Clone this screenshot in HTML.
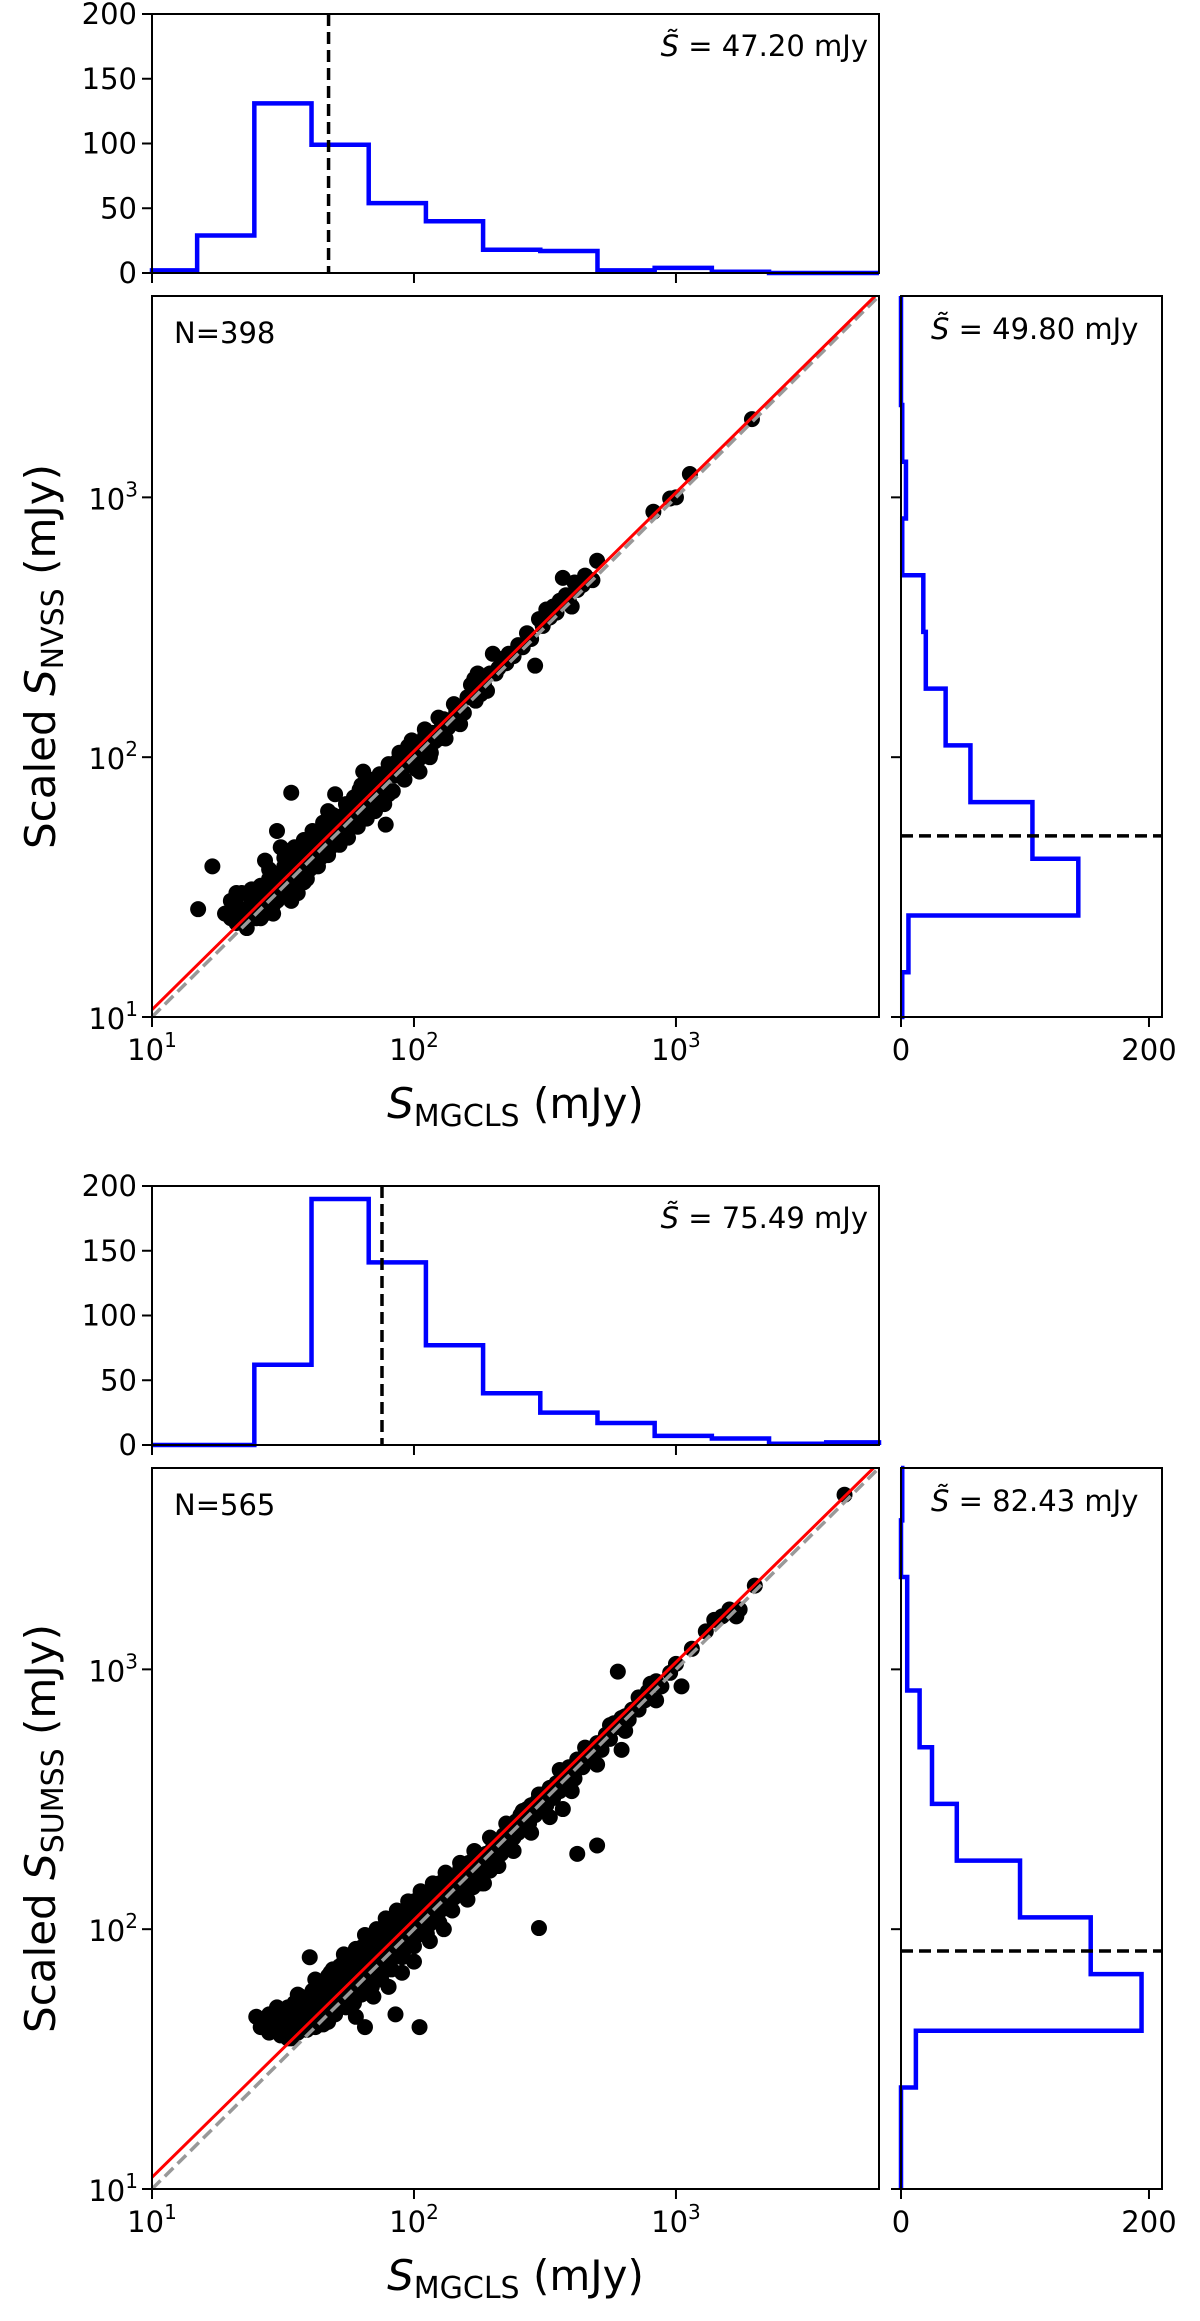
<!DOCTYPE html>
<html><head><meta charset="utf-8"><title>MGCLS flux comparison</title>
<style>
html,body{margin:0;padding:0;background:#fff;}
svg{display:block;font-family:"DejaVu Sans","Liberation Sans",sans-serif;}
</style></head>
<body>
<svg id="fig" width="1200" height="2321" viewBox="0 0 1200 2321" xmlns="http://www.w3.org/2000/svg"></svg>
<script>
// ---------- data ----------
var LMIN = 1, LMAX = 3.775;
var binStart = 0.954, binWidth = 0.2183, binCount = 13;
var topHist1 = [2,29,131,99,54,40,18,17,2,4,1,0,0];
var rightHist1 = [1,6,143,106,56,36,20,18,1,4,1,0,0];
var topHist2 = [0,0,62,190,141,77,40,25,17,7,5,1,2];
var rightHist2 = [0,0,12,194,153,96,45,25,15,5,5,0,1];
var medianX1 = 47.20, medianY1 = 49.80, medianX2 = 75.49, medianY2 = 82.43;
var medianLabels1 = ["47.20","49.80"], medianLabels2 = ["75.49","82.43"];
var nLabels = ["N=398","N=565"];
var surveyLabels = ["NVSS","SUMSS"];
var fitLine1 = [[1,1.028],[3.76,3.775]];
var fitLine2 = [[1,1.045],[3.754,3.775]];
var xTickVals = [10,100,1000];
var xTickExp = ["1","2","3"];
var histTicks = [0,50,100,150,200];
var rightTicks = [0,200];
var pts1 = [[15,26],[17,38],[34,73],[19,25],[20,28],[20,24],[21,27],[21,23],[22,30],[22,25],[23,26],[23,22],[24,28],[24,25],[25,24],[25,30],[26,27],[26,32],[27,25],[27,40],[28,29],[28,34],[29,27],[29,31],[30,33],[30,52],[30,28],[31,36],[31,45],[32,30],[32,38],[33,35],[33,29],[34,38],[34,32],[35,40],[35,34],[36,37],[36,30],[37,42],[37,35],[38,44],[38,33],[39,40],[40,46],[40,37],[41,43],[42,48],[42,39],[43,45],[44,50],[44,41],[45,47],[46,53],[46,43],[47,62],[48,50],[48,45],[49,55],[50,72],[50,52],[51,47],[52,56],[53,50],[54,60],[55,52],[56,58],[57,54],[58,64],[60,62],[60,56],[62,75],[62,66],[64,88],[64,60],[66,72],[68,66],[70,82],[70,74],[72,68],[74,78],[75,72],[78,55],[78,84],[80,72],[82,88],[85,85],[86,96],[88,90],[90,100],[92,92],[95,110],[96,98],[100,110],[100,104],[104,98],[105,88],[108,115],[110,120],[112,106],[115,100],[118,124],[120,115],[125,118],[128,134],[130,140],[135,130],[140,140],[145,150],[150,155],[155,148],[160,170],[165,190],[170,200],[172,165],[175,210],[180,175],[185,190],[190,180],[200,250],[205,210],[210,220],[220,240],[225,230],[230,250],[240,245],[250,270],[260,265],[270,300],[280,285],[290,225],[300,340],[310,320],[320,370],[330,345],[340,380],[350,360],[360,400],[370,490],[380,420],[390,400],[400,380],[410,470],[420,440],[440,460],[450,500],[480,480],[500,570],[820,880],[950,990],[1000,1000],[1130,1230],[1950,2000],
[21,30],[24,31],[26,24],[28,37],[29,25],[32,41],[34,28],[35,45],[38,48],[39,34],[41,52],[43,38],[45,56],[47,42],[49,60],[52,46],[55,66],[56,49],[59,70],[61,54],[63,78],[66,58],[69,80],[71,62],[74,86],[77,66],[80,94],[83,74],[88,104],[92,82],[98,116],[102,90],[110,128],[116,104],[124,142],[132,118],[142,160],[150,134],[170,185],[195,210]];
var pts2 = [[25,46],[26,42],[27,44],[28,40],[28,47],[29,43],[30,41],[30,45],[31,39],[31,48],[32,44],[32,40],[33,42],[33,50],[34,46],[34,38],[35,43],[35,52],[36,40],[36,47],[37,45],[37,55],[38,42],[38,50],[39,48],[39,41],[40,44],[40,53],[40,78],[41,47],[41,58],[42,42],[42,51],[43,49],[43,60],[44,45],[44,55],[45,52],[45,62],[46,48],[46,58],[47,44],[47,66],[48,54],[48,61],[49,50],[49,70],[50,56],[50,47],[51,64],[52,58],[52,72],[53,54],[54,62],[54,75],[55,50],[55,68],[56,60],[57,56],[57,73],[58,66],[58,80],[59,52],[60,70],[60,62],[61,58],[62,76],[62,66],[63,85],[64,60],[64,72],[65,95],[66,68],[66,80],[67,62],[68,74],[68,88],[69,66],[70,82],[70,72],[71,92],[72,70],[72,78],[73,86],[74,66],[75,80],[75,98],[76,74],[77,90],[78,84],[78,104],[79,76],[80,88],[80,96],[81,72],[82,100],[83,84],[84,92],[85,110],[86,80],[87,96],[88,86],[89,104],[90,92],[90,112],[91,82],[92,100],[93,118],[94,90],[95,106],[96,98],[97,122],[98,88],[99,110],[100,102],[100,128],[102,94],[104,114],[105,124],[106,100],[108,120],[110,108],[110,134],[112,118],[114,104],[115,130],[116,124],[118,112],[120,136],[122,126],[124,116],[125,150],[127,132],[130,120],[130,145],[132,138],[135,126],[137,160],[140,142],[142,132],[145,155],[148,140],[150,170],[152,148],[155,138],[158,165],[160,150],[162,180],[165,158],[168,145],[170,172],[172,190],[175,162],[178,155],[180,185],[182,170],[185,150],[188,195],[190,178],[195,168],[200,205],[205,185],[210,220],[215,195],[220,230],[225,205],[230,215],[235,250],[240,225],[245,260],[250,235],[255,275],[260,248],[270,290],[275,255],[280,300],[290,275],[295,310],[300,285],[310,330],[320,300],[330,350],[340,320],[350,365],[360,340],[370,380],[380,355],[390,420],[400,400],[410,380],[420,450],[440,420],[460,480],[480,455],[500,520],[520,490],[540,560],[560,540],[580,620],[600,600],[620,650],[640,660],[660,640],[680,700],[720,700],[760,760],[780,820],[800,880],[840,900],[880,860],[950,970],[1000,1050],[1150,1200],[1300,1400],[1400,1550],[1500,1600],[1600,1700],[1700,1600],[1750,1700],[2000,2100],[300,101],[105,42],[85,47],[65,42],[420,195],[500,210],[370,290],[620,490],[600,980],[1050,860],[4400,4700],
[30,50],[33,38],[36,56],[39,44],[42,64],[45,43],[48,68],[51,50],[54,80],[57,52],[60,84],[63,56],[66,92],[69,60],[72,100],[75,64],[78,110],[82,70],[86,118],[90,78],[95,128],[100,86],[106,140],[112,96],[118,150],[125,106],[132,165],[140,118],[150,180],[160,130],[170,200],[182,150],[195,225],[210,175],[225,255],[240,200],[260,285],[280,235],[300,330],[330,270],[360,410],[400,340],[450,500],[500,430],[560,610],[640,580],[720,780],[840,760],[60,46],[70,55],[80,60],[90,68],[100,75],[115,90],[130,100]];

// ---------- layout ----------
var NS = "http://www.w3.org/2000/svg";
var svg = document.getElementById('fig');
var MX0 = 152, MX1 = 879, MY0 = 296, MY1 = 1017;
var TY0 = 14, TY1 = 273, RX0 = 901, RX1 = 1162;
function el(tag, attrs, parent) {
  var e = document.createElementNS(NS, tag);
  for (var k in attrs) e.setAttribute(k, attrs[k]);
  (parent || svg).appendChild(e);
  return e;
}
function clampL(l) { return Math.max(LMIN, Math.min(LMAX, l)); }
function lx(l) { return MX0 + (clampL(l) - LMIN) / (LMAX - LMIN) * (MX1 - MX0); }
function ly(l, off) { return off + MY1 - (clampL(l) - LMIN) / (LMAX - LMIN) * (MY1 - MY0); }
function px(l) { return MX0 + (l - LMIN) / (LMAX - LMIN) * (MX1 - MX0); }
function py(l, off) { return off + MY1 - (l - LMIN) / (LMAX - LMIN) * (MY1 - MY0); }
function sx(v) { return px(Math.log10(v)); }
function sy(v, off) { return py(Math.log10(v), off); }
function hy(c, off) { return off + TY1 - c / 200 * (TY1 - TY0); }
function rx(c) { return RX0 + c / 210.5 * (RX1 - RX0); }
function edge(i) { return binStart + i * binWidth; }

function panel(off, k, topH, rightH, medX, medY, medLabels, nLabel, survey, fit, pts) {
  var g = el('g', {});
  
  

  // ---- top histogram ----
  var gt = el('g', {}, g);
  
  
  var d = 'M' + lx(edge(0)) + ' ' + hy(0, off);
  for (var i = 0; i < binCount; i++) {
    d += ' L' + lx(edge(i)) + ' ' + hy(topH[i], off) + ' L' + lx(edge(i + 1)) + ' ' + hy(topH[i], off);
  }
  d += ' L' + lx(edge(binCount)) + ' ' + hy(0, off);
  var hp = el('path', {d: d, fill: 'none', stroke: '#0000ff', 'stroke-width': 4.5}, gt);
  
  
  var mx = el('line', {x1: sx(medX), x2: sx(medX), y1: off + TY0, y2: off + TY1, stroke: '#000', 'stroke-width': 3.5, 'stroke-dasharray': '12,6'}, gt);
  
  
  var fr = el('rect', {x: MX0, y: off + TY0, width: MX1 - MX0, height: TY1 - TY0, fill: 'none', stroke: '#000', 'stroke-width': 2}, gt);
  
  
  histTicks.forEach(function (t) {
    el('line', {x1: MX0 - 10, x2: MX0, y1: hy(t, off), y2: hy(t, off), stroke: '#000', 'stroke-width': 2}, gt);
    var tt = el('text', {x: MX0 - 15, y: hy(t, off) + 10, 'text-anchor': 'end', 'font-size': 29}, gt);
    tt.textContent = t;
    
    
  });
  xTickVals.forEach(function (v) {
    el('line', {x1: sx(v), x2: sx(v), y1: off + TY1, y2: off + TY1 + 10, stroke: '#000', 'stroke-width': 2}, gt);
  });
  var at = el('text', {x: 868, y: off + 56, 'text-anchor': 'end', 'font-size': 29}, gt);
  at.innerHTML = '<tspan font-style="italic">S̃</tspan> = ' + medLabels[0] + ' mJy';
  
  

  // ---- scatter ----
  var gs = el('g', {}, g);
  
  
  var cp = el('clipPath', {id: 'clip' + k}, gs);
  el('rect', {x: MX0, y: off + MY0, width: MX1 - MX0, height: MY1 - MY0}, cp);
  var gc = el('g', {'clip-path': 'url(#clip' + k + ')'}, gs);
  for (var j = 0; j < pts.length; j++) {
    var c = el('circle', {cx: sx(pts[j][0]), cy: sy(pts[j][1], off), r: 8, fill: '#000'}, gc);
    
    
  }
  var one = el('line', {x1: px(1), y1: py(1, off), x2: px(LMAX), y2: py(LMAX, off), stroke: '#999', 'stroke-width': 3.5, 'stroke-dasharray': '12,6'}, gc);
  
  
  var rl = el('line', {x1: px(fit[0][0]), y1: py(fit[0][1], off), x2: px(fit[1][0]), y2: py(fit[1][1], off), stroke: '#ff0000', 'stroke-width': 3}, gc);
  
  
  var mf = el('rect', {x: MX0, y: off + MY0, width: MX1 - MX0, height: MY1 - MY0, fill: 'none', stroke: '#000', 'stroke-width': 2}, gs);
  
  
  xTickVals.forEach(function (v, i) {
    el('line', {x1: sx(v), x2: sx(v), y1: off + MY1, y2: off + MY1 + 10, stroke: '#000', 'stroke-width': 2}, gs);
    var tx = el('text', {x: sx(v), y: off + MY1 + 43, 'text-anchor': 'middle', 'font-size': 29}, gs);
    tx.innerHTML = '10<tspan font-size="20" dy="-13">' + xTickExp[i] + '</tspan>';
    
    
    el('line', {x1: MX0 - 10, x2: MX0, y1: sy(v, off), y2: sy(v, off), stroke: '#000', 'stroke-width': 2}, gs);
    var ty = el('text', {x: MX0 - 14, y: sy(v, off) + 12, 'text-anchor': 'end', 'font-size': 29}, gs);
    ty.innerHTML = '10<tspan font-size="20" dy="-13">' + xTickExp[i] + '</tspan>';
    
    
  });
  var nt = el('text', {x: 174, y: off + 343, 'font-size': 29}, gs);
  nt.textContent = nLabel;
  
  
  var xl = el('text', {x: (MX0 + MX1) / 2, y: off + 1118, 'text-anchor': 'middle', 'font-size': 42}, gs);
  xl.innerHTML = '<tspan font-style="italic">S</tspan><tspan font-size="30" dy="8">MGCLS</tspan><tspan dy="-8"> (mJy)</tspan>';
  
  
  var yc = (MY0 + MY1) / 2 + off;
  var yl = el('text', {x: 0, y: 0, 'text-anchor': 'middle', 'font-size': 42, transform: 'translate(55,' + yc + ') rotate(-90)'}, gs);
  yl.innerHTML = 'Scaled <tspan font-style="italic">S</tspan><tspan font-size="30" dy="8">' + survey + '</tspan><tspan dy="-8"> (mJy)</tspan>';
  
  

  // ---- right histogram ----
  var gr = el('g', {}, g);
  
  
  var d2 = 'M' + rx(0) + ' ' + ly(edge(0), off);
  for (var i2 = 0; i2 < binCount; i2++) {
    d2 += ' L' + rx(rightH[i2]) + ' ' + ly(edge(i2), off) + ' L' + rx(rightH[i2]) + ' ' + ly(edge(i2 + 1), off);
  }
  d2 += ' L' + rx(0) + ' ' + ly(edge(binCount), off);
  var rp = el('path', {d: d2, fill: 'none', stroke: '#0000ff', 'stroke-width': 4.5}, gr);
  
  
  var my = el('line', {x1: RX0, x2: RX1, y1: sy(medY, off), y2: sy(medY, off), stroke: '#000', 'stroke-width': 3.5, 'stroke-dasharray': '12,6'}, gr);
  
  
  var rf = el('rect', {x: RX0, y: off + MY0, width: RX1 - RX0, height: MY1 - MY0, fill: 'none', stroke: '#000', 'stroke-width': 2}, gr);
  
  
  rightTicks.forEach(function (t) {
    el('line', {x1: rx(t), x2: rx(t), y1: off + MY1, y2: off + MY1 + 10, stroke: '#000', 'stroke-width': 2}, gr);
    var tl = el('text', {x: rx(t), y: off + MY1 + 43, 'text-anchor': 'middle', 'font-size': 29}, gr);
    tl.textContent = t;
    
    
  });
  xTickVals.forEach(function (v) {
    el('line', {x1: RX0 - 10, x2: RX0, y1: sy(v, off), y2: sy(v, off), stroke: '#000', 'stroke-width': 2}, gr);
  });
  var ar = el('text', {x: 931, y: off + 339, 'font-size': 29}, gr);
  ar.innerHTML = '<tspan font-style="italic">S̃</tspan> = ' + medLabels[1] + ' mJy';
  
  
}
panel(0, 1, topHist1, rightHist1, medianX1, medianY1, medianLabels1, nLabels[0], surveyLabels[0], fitLine1, pts1);
panel(1172, 2, topHist2, rightHist2, medianX2, medianY2, medianLabels2, nLabels[1], surveyLabels[1], fitLine2, pts2);
</script>
</body></html>
